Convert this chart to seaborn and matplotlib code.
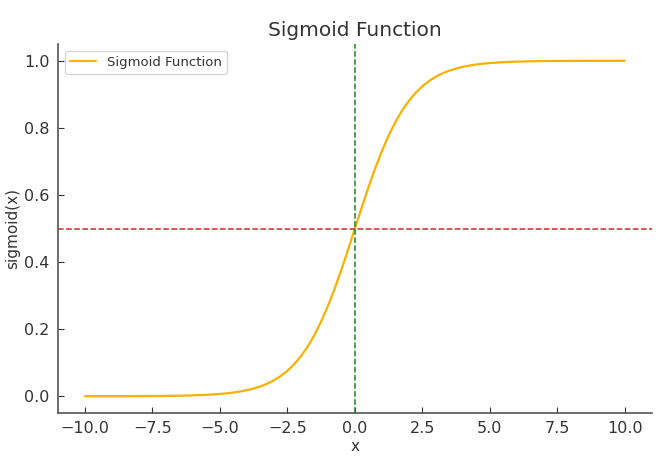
import matplotlib
matplotlib.use("Agg")
import matplotlib.pyplot as plt
import seaborn as sns
import pandas as pd

# values
x_vals = [-10.0, -9.5, -9.0, -8.5, -8.0, -7.5, -7.0, -6.5, -6.0, -5.5, -5.0,
          -4.75, -4.5, -4.25, -4.0, -3.75, -3.5, -3.25, -3.0, -2.75, -2.5,
          -2.25, -2.0, -1.75, -1.5, -1.25, -1.0, -0.75, -0.5, -0.25, 0.0,
          0.25, 0.5, 0.75, 1.0, 1.25, 1.5, 1.75, 2.0, 2.25, 2.5, 2.75, 3.0,
          3.25, 3.5, 3.75, 4.0, 4.25, 4.5, 4.75, 5.0, 5.5, 6.0, 6.5, 7.0,
          7.5, 8.0, 8.5, 9.0, 9.5, 10.0]
y_vals = [0.0000, 0.0001, 0.0001, 0.0002, 0.0003, 0.0006, 0.0009, 0.0015,
          0.0025, 0.0041, 0.0067, 0.0086, 0.0110, 0.0141, 0.0180, 0.0230,
          0.0293, 0.0373, 0.0474, 0.0601, 0.0759, 0.0954, 0.1192, 0.1480,
          0.1824, 0.2227, 0.2689, 0.3208, 0.3775, 0.4378, 0.5000, 0.5622,
          0.6225, 0.6792, 0.7311, 0.7773, 0.8176, 0.8520, 0.8808, 0.9046,
          0.9241, 0.9399, 0.9526, 0.9627, 0.9707, 0.9770, 0.9820, 0.9859,
          0.9890, 0.9914, 0.9933, 0.9959, 0.9975, 0.9985, 0.9991, 0.9994,
          0.9997, 0.9998, 0.9999, 0.9999, 1.0000]
h_ref = 0.5
v_ref = 0.0

df = pd.DataFrame({"x": x_vals, "sigmoid(x)": y_vals})

sns.set_theme(style="ticks")
plt.rcParams["font.family"] = ["DejaVu Sans"]
text_col = "#333333"

fig = plt.figure(figsize=(6.72, 4.57), dpi=100)
ax = fig.add_axes([0.0863, 0.0963, 0.8837, 0.8074])

sns.lineplot(data=df, x="x", y="sigmoid(x)", ax=ax, color="#f7b100",
             linewidth=1.6, label="Sigmoid Function")
ax.axhline(h_ref, color="#d62728", linestyle="--", linewidth=1.1)
ax.axvline(v_ref, color="#1a8a1a", linestyle="--", linewidth=1.1)

ax.set_xlim(-11, 11)
ax.set_ylim(-0.05, 1.05)
ax.set_xticks([-10, -7.5, -5, -2.5, 0, 2.5, 5, 7.5, 10])
ax.set_yticks([0, 0.2, 0.4, 0.6, 0.8, 1.0])

ax.set_title("Sigmoid Function", fontsize=14.5, color=text_col, pad=6)
ax.set_xlabel("x", fontsize=11, color=text_col, labelpad=2)
ax.set_ylabel("sigmoid(x)", fontsize=11, color=text_col, labelpad=3)
ax.tick_params(direction="in", length=4, labelsize=11.5, colors=text_col,
               width=0.8, pad=6)

sns.despine(ax=ax)
for s in ["left", "bottom"]:
    ax.spines[s].set_color("#555555")
    ax.spines[s].set_linewidth(1.2)

leg = ax.legend(loc="upper left", fontsize=9.5, frameon=True, fancybox=True,
                borderaxespad=0.5)
leg.get_frame().set_edgecolor("#cccccc")
for t in leg.get_texts():
    t.set_color(text_col)

fig.savefig("out.png", dpi=100)
